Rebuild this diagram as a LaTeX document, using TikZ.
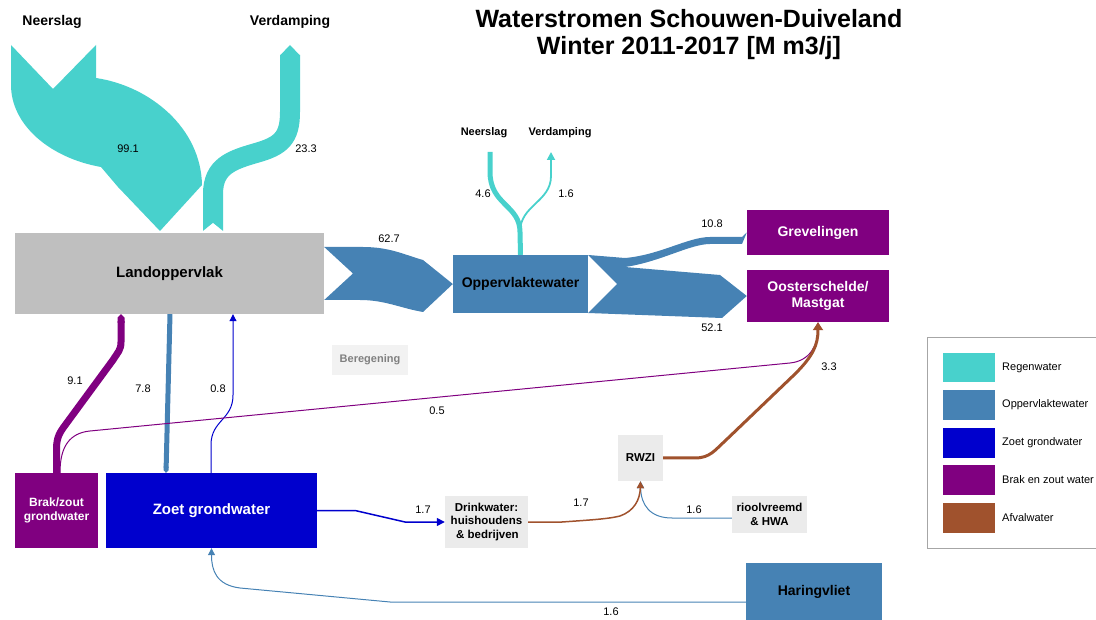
\documentclass[tikz,border=0pt]{standalone}
\usepackage{fontspec}
\setmainfont{Liberation Sans}
\usetikzlibrary{arrows.meta}
\definecolor{cRegen}{HTML}{48D1CC}
\definecolor{cOpp}{HTML}{4682B4}
\definecolor{cZoet}{HTML}{0000CD}
\definecolor{cBrak}{HTML}{800080}
\definecolor{cAfval}{HTML}{A0522D}
\definecolor{cLand}{HTML}{BFBFBF}
\definecolor{cSmall}{HTML}{EBEBEB}
\definecolor{cBereg}{HTML}{F2F2F2}
\definecolor{cLegBorder}{HTML}{A6A6A6}
\begin{document}
\begin{tikzpicture}[x=1pt,y=-1pt,
  box/.style={draw=none,inner sep=0pt,align=center,font=\bfseries\fontsize{14}{16}\selectfont},
  smallbox/.style={box,fill=cSmall,font=\bfseries\fontsize{11.5}{13.5}\selectfont},
  lbl/.style={inner sep=0pt,font=\fontsize{11}{13}\selectfont},
  head/.style={inner sep=0pt,font=\bfseries\fontsize{14}{16}\selectfont},
  shead/.style={inner sep=0pt,font=\bfseries\fontsize{11}{13}\selectfont},
  legtxt/.style={inner sep=0pt,anchor=west,font=\fontsize{11}{13}\selectfont},
  tip/.style={-{Triangle[width=#1,length=#1]}},
  tip/.default=7pt
]
\useasboundingbox (0,0) rectangle (1096,620);

% ---------- title ----------
\node[inner sep=0pt,align=center,font=\bfseries\fontsize{25}{27}\selectfont] (title) at (689,35)
  {Waterstromen Schouwen-Duiveland\\Winter 2011-2017 [M m3/j]};

% ---------- boxes ----------
\node[box,fill=cLand,minimum width=309,minimum height=81,font=\bfseries\fontsize{15}{17}\selectfont] (land) at (169.5,273.5) {Landoppervlak};
\node[box,fill=cOpp,minimum width=135,minimum height=58] (opp) at (520.5,284) {Oppervlaktewater};
\node[box,fill=cBrak,text=white,minimum width=142,minimum height=45] (grev) at (818,232.5) {Grevelingen};
\node[box,fill=cBrak,text=white,minimum width=142,minimum height=52] (oost) at (818,296) {Oosterschelde/\\Mastgat};
\node[box,fill=cBrak,text=white,minimum width=83,minimum height=75,font=\bfseries\fontsize{12}{14}\selectfont] (brak) at (56.5,510.5) {Brak/zout\\grondwater};
\node[box,fill=cZoet,text=white,minimum width=211,minimum height=75,font=\bfseries\fontsize{15}{17}\selectfont] (zoet) at (211.5,510.5) {Zoet grondwater};
\node[smallbox,minimum width=45,minimum height=46] (rwzi) at (640.5,458) {RWZI};
\node[smallbox,minimum width=83,minimum height=52] (drink) at (486.5,522) {Drinkwater:\\huishoudens\\\,\& bedrijven};
\node[smallbox,minimum width=75,minimum height=37] (riool) at (769.5,514.5) {rioolvreemd\\\& HWA};
\node[box,fill=cOpp,minimum width=136,minimum height=62] (haring) at (814,594) {\raisebox{7pt}{Haringvliet}};
\node[box,fill=cBereg,text=gray,minimum width=76,minimum height=30,font=\bfseries\fontsize{11}{13}\selectfont] (bereg) at (370,360) {Beregening};

% ---------- top headings ----------
\node[head] (nslag) at (52,22) {Neerslag};
\node[head] (verd) at (290,22) {Verdamping};
\node[shead] (nslag2) at (484,133) {Neerslag};
\node[shead] (verd2) at (560,133) {Verdamping};

% ---------- big ribbons ----------
% Neerslag 99.1
\fill[cRegen] (11,45) -- (53,89) -- (96,45) -- (96,78)
  .. controls (150,86) and (201,128) .. (202,185) -- (160,231) -- (118,187) -- (101,167)
  .. controls (50,158) and (11,125) .. (11,85) -- cycle;
% Verdamping 23.3
\draw[cRegen,line width=20pt] (213,231) -- (213,194)
  .. controls (213,166) and (232,160) .. (256,153)
  .. controls (281,146) and (290,138) .. (290,112) -- (290,55);
\fill[cRegen] (280,55.5) -- (290,45) -- (300,55.5) -- cycle;
\fill[white] (202.5,231.5) -- (213,223) -- (223.5,231.5) -- cycle;
% Landoppervlak -> Oppervlaktewater 62.7
\fill[cOpp] (land.east |- 0,247) -- (363,247) .. controls (390,247) and (405,255) .. (423,260)
  -- (opp.west) -- (423,312) .. controls (400,308) and (385,300) .. (360,300)
  -- (land.east |- 0,300) -- (353,273.5) -- cycle;
% Oppervlaktewater -> Grevelingen / Oosterschelde
\fill[cOpp] (opp.east |- 0,255) -- (625,258) .. controls (660,255) and (688,237) .. (710,237)
  -- (742,237) -- (grev.west) -- (742,244) -- (710,244)
  .. controls (690,244) and (660,262) .. (625,267)
  -- (720,275) -- (oost.west) -- (722,318) -- (opp.east |- 0,313) -- (617,284) -- cycle;

% ---------- small regen flows ----------
\coordinate (nsrc) at (490,152);
\draw[cRegen,line width=5pt] (nsrc) -- (490,172) .. controls (490,205) and (520,205) .. (520,232) -- (opp.north);
\draw[cRegen,line width=1.8pt,tip=8pt] (opp.north) -- (520,232) .. controls (520,205) and (551,202) .. (551,176) -- (551,152);

% ---------- lower flows ----------
\draw[cBrak,line width=7pt,-{Triangle Cap[]}] (brak.north) -- (56.5,449) .. controls (56.5,437) and (60,432) .. (66,424)
  -- (113,360) .. controls (118,352) and (121,350) .. (121,342) -- ([xshift=-48.5pt]land.south);
\draw[cOpp,line width=5pt,-{Triangle Cap[]}] ([xshift=0.5pt]land.south) -- ([xshift=-45.5pt]zoet.north);
\draw[cZoet,line width=1pt,tip=7pt] ([xshift=-0.5pt]zoet.north) -- (211,445) .. controls (211,420) and (233,420) .. (233,395) -- ([xshift=63.5pt]land.south);
\draw[cBrak,line width=1pt,tip=7pt] ([xshift=3.5pt]brak.north) .. controls (60,446) and (70,433) .. (90,431)
  -- (790,363) .. controls (810,361) and (818,345) .. (oost.south);
\draw[cAfval,line width=3pt,-{Triangle[width=10pt,length=8pt]}] (rwzi.east) -- (695,458) .. controls (710,458) and (715,450) .. (725,441)
  -- (795,374) .. controls (813,356) and (818,345) .. (oost.south);
\draw[cZoet,line width=1.5pt,tip=8pt] (zoet.east) -- (355,510.5) -- (405,522) -- (drink.west);
\draw[cOpp,line width=1pt,tip=7pt] ([yshift=-3.5pt]riool.west) -- (672,518) .. controls (650,518) and (641,505) .. (rwzi.south);
\draw[cAfval,line width=1.5pt,tip=7pt] (drink.east) -- (562,522) .. controls (590,520) and (608,519) .. (620,516)
  .. controls (634,511) and (640,500) .. (rwzi.south);
\draw[cOpp,line width=1pt,tip=7pt] ([yshift=-8pt]haring.west) -- (390,602) -- (240,588) .. controls (216,585) and (211.5,570) .. (zoet.south);

% ---------- flow labels ----------
\node[lbl] (l991) at (128,149) {99.1};
\node[lbl] (l233) at (306,149) {23.3};
\node[lbl] (l627) at (389,239) {62.7};
\node[lbl] (l46) at (483,194) {4.6};
\node[lbl] (l16a) at (566,194) {1.6};
\node[lbl] (l108) at (712,224) {10.8};
\node[lbl] (l521) at (712,328) {52.1};
\node[lbl] (l91) at (75,381) {9.1};
\node[lbl] (l78) at (143,389) {7.8};
\node[lbl] (l08) at (218,389) {0.8};
\node[lbl] (l05) at (437,411) {0.5};
\node[lbl] (l33) at (829,367) {3.3};
\node[lbl] (l17a) at (423,510) {1.7};
\node[lbl] (l17b) at (581,503) {1.7};
\node[lbl] (l16b) at (694,510) {1.6};
\node[lbl] (l16c) at (611,612) {1.6};

% ---------- legend ----------
\draw[cLegBorder,line width=0.8pt] (927,337) rectangle (1110,548);
\fill[cRegen] (943,353) rectangle (995,382);
\fill[cOpp] (943,390) rectangle (995,420);
\fill[cZoet] (943,428) rectangle (995,458);
\fill[cBrak] (943,465) rectangle (995,495);
\fill[cAfval] (943,503) rectangle (995,533);
\node[legtxt] (lg1) at (1002,367.5) {Regenwater};
\node[legtxt] (lg2) at (1002,405) {Oppervlaktewater};
\node[legtxt] (lg3) at (1002,443) {Zoet grondwater};
\node[legtxt] (lg4) at (1002,480) {Brak en zout water};
\node[legtxt] (lg5) at (1002,518) {Afvalwater};
\end{tikzpicture}
\end{document}
